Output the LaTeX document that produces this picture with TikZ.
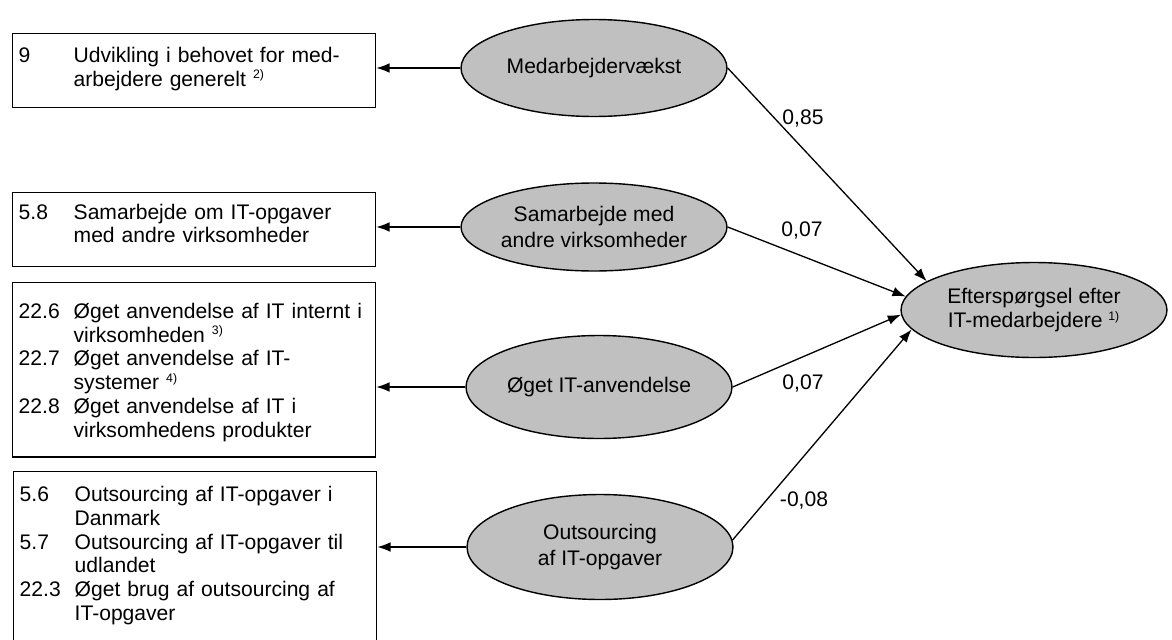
\documentclass[tikz,border=0pt]{standalone}
\usepackage{fontspec}
\setmainfont{Liberation Sans}
\usetikzlibrary{shapes.geometric,arrows.meta}

\definecolor{ovalgray}{RGB}{192,192,192}
\newcommand{\qno}[1]{\makebox[1.1cm][l]{#1}}
\newcommand{\qgap}{\hspace*{1.1cm}}
\newcommand{\fnmark}[1]{\textsuperscript{\fontsize{7}{7}\selectfont #1}}

\tikzset{
  itembox/.style={draw,line width=0.8pt,rectangle,anchor=north west,
    inner xsep=0.12cm,inner ysep=0pt,text width=7.02cm,align=left,
    font=\fontsize{12}{13.5}\selectfont},
  factor/.style={draw,line width=0.8pt,fill=ovalgray,ellipse,
    minimum width=5.32cm,inner sep=0pt,align=center,
    font=\fontsize{12}{15}\selectfont},
  effect/.style={line width=0.75pt,-{Latex[length=7.5pt,width=5.5pt]}},
  weight/.style={font=\fontsize{12}{14}\selectfont,inner sep=0pt}
}

\begin{document}
\begin{tikzpicture}[x=0.02cm,y=-0.02cm]
    \useasboundingbox (0,0) rectangle (1172,639);
    %% Question boxes
    \node[itembox,text height=16.4pt,text depth=25.5pt] (B1) at (12,33)
        {\qno{9}Udvikling i behovet for med-\\\qgap arbejdere generelt \fnmark{2)}};
    \node[itembox,text height=15pt,text depth=27pt] (B2) at (12,192)
        {\qno{5.8}Samarbejde om IT-opgaver\\\qgap med andre virksomheder};
    \node[itembox,text height=20.4pt,text depth=78.8pt] (B3) at (12,282)
        {\qno{22.6}Øget anvendelse af IT internt i\\\qgap virksomheden \fnmark{3)}\\\qno{22.7}Øget anvendelse af IT-\\\qgap systemer \fnmark{4)}\\\qno{22.8}Øget anvendelse af IT i\\\qgap virksomhedens produkter};
    \node[itembox,text height=17pt,text depth=90pt] (B4) at (13,471)
        {\qno{5.6}Outsourcing af IT-opgaver i\\\qgap Danmark\\\qno{5.7}Outsourcing af IT-opgaver til\\\qgap udlandet\\\qno{22.3}Øget brug af outsourcing af\\\qgap IT-opgaver};
    %% Factors
    \node[factor,minimum height=1.94cm] (E1) at (594,68) {Medarbejdervækst};
    \node[factor,minimum height=1.76cm] (E2) at (594,227) {Samarbejde med\\andre virksomheder};
    \node[factor,minimum height=2.06cm] (E3) at (599,387) {Øget IT-anvendelse};
    \node[factor,minimum height=2.1cm] (E4) at (600,547) {Outsourcing\\af IT-opgaver};
    %% Demand
    \node[factor,minimum height=1.9cm,font=\fontsize{12}{14}\selectfont] (T) at (1034,310)
        {Efterspørgsel efter\\IT-medarbejdere \fnmark{1)}};
    %% Loadings
    \foreach \e/\b in {E1/B1,E2/B2,E3/B3,E4/B4}
        \draw[effect] (\e.west) -- (\e.west -| \b.east);
    %% Paths to demand
    \draw[effect] (E1.east) -- (T.165);
    \draw[effect] (E2.east) -- (T.174);
    \draw[effect] (E3.east) -- (T.182);
    \draw[effect] (E4.3) -- (T.189);
    \node[weight] (w1) at (803,118) {0,85};
    \node[weight] (w2) at (802,230) {0,07};
    \node[weight] (w3) at (803,383) {0,07};
    \node[weight] (w4) at (804,500) {-0,08};
\end{tikzpicture}
\end{document}
